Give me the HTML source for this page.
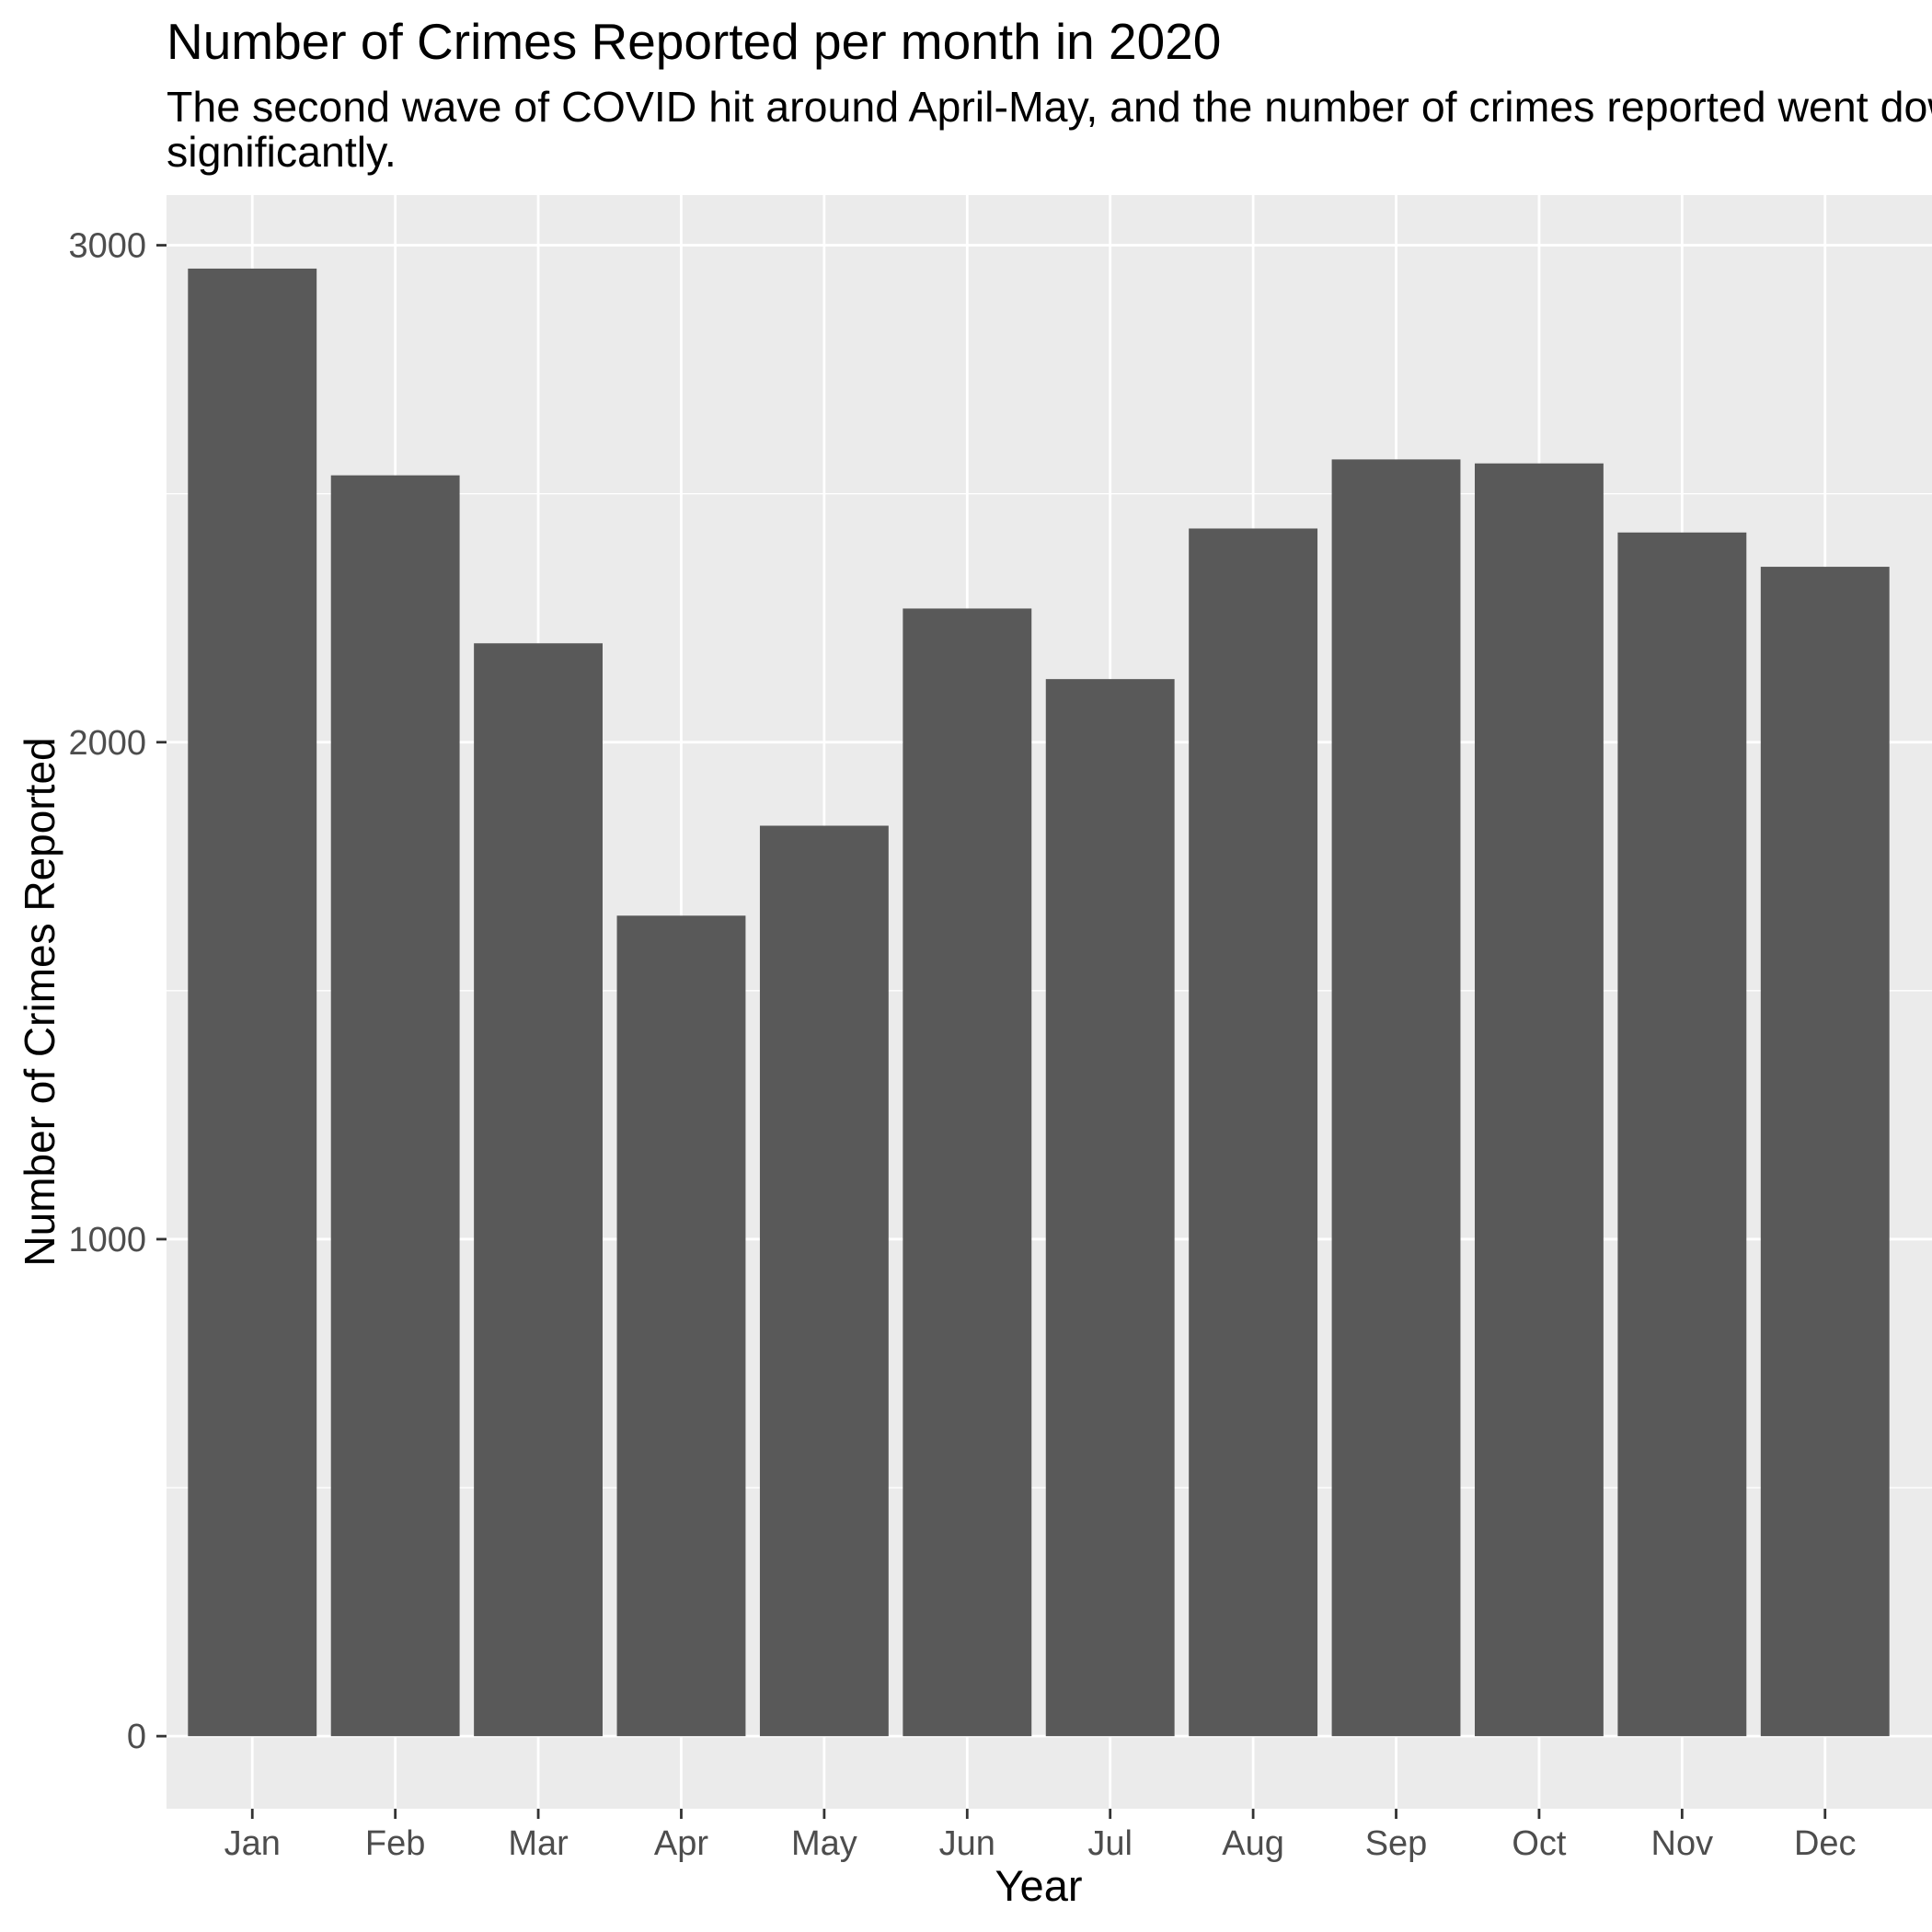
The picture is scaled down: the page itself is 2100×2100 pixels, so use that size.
<!DOCTYPE html>
<html><head><meta charset="utf-8">
<style>
html,body{margin:0;padding:0;background:#fff;}
svg{display:block;}
text{font-family:"Liberation Sans",Arial,sans-serif;}
</style></head>
<body>
<svg id="chart" width="2100" height="2100" viewBox="0 0 2100 2100" xmlns="http://www.w3.org/2000/svg">
<rect x="0" y="0" width="2100" height="2100" fill="#ffffff"/>
<text x="181" y="64" font-size="55" fill="#000">Number of Crimes Reported per month in 2020</text>
<text x="181" y="132" font-size="46.5" fill="#000">The second wave of COVID hit around April-May, and the number of crimes reported went down</text>
<text x="181" y="181" font-size="46.5" fill="#000">significantly.</text>
<rect x="181" y="212" width="1919" height="1754" fill="#ebebeb"/>
<g id="grid"></g>
<g id="bars"></g>
<g id="axes"></g>
<text x="1129" y="2066" font-size="47" text-anchor="middle" fill="#000">Year</text>
<text transform="translate(59,1089) rotate(-90)" font-size="46" text-anchor="middle" fill="#000">Number of Crimes Reported</text>
</svg>
<script>
const categories = ["Jan","Feb","Mar","Apr","May","Jun","Jul","Aug","Sep","Oct","Nov","Dec"];
const crimes = [2953,2537,2199,1651,1832,2269,2127,2430,2569,2561,2422,2353];
const yTicks = [0,1000,2000,3000];
const yMinorTicks = [500,1500,2500];

const NS = "http://www.w3.org/2000/svg";
const panelL = 181, panelR = 2077, panelT = 212, panelB = 1966, gridR = 2100;
const yMin = -146, yMax = 3101;
function yScale(v){ return panelB - (v - yMin) / (yMax - yMin) * (panelB - panelT); }
const step = (panelR - panelL) / (categories.length - 1 + 1.2);
function xScale(i){ return panelL + (0.6 + i) * step; }
function mk(tag, attrs, parent){
  const el = document.createElementNS(NS, tag);
  for (const k in attrs) el.setAttribute(k, attrs[k]);
  parent.appendChild(el);
  return el;
}
const grid = document.getElementById("grid");
const bars = document.getElementById("bars");
const axes = document.getElementById("axes");

yMinorTicks.forEach(v => {
  const l = mk("line", {x1:panelL, x2:gridR, y1:yScale(v), y2:yScale(v), stroke:"#fff", "stroke-width":1.4}, grid);
  
  
});
yTicks.forEach(v => {
  const l = mk("line", {x1:panelL, x2:gridR, y1:yScale(v), y2:yScale(v), stroke:"#fff", "stroke-width":2.8}, grid);
  
  
  const t = mk("line", {x1:170, x2:panelL, y1:yScale(v), y2:yScale(v), stroke:"#333", "stroke-width":2.8}, axes);
  
  
  const tx = mk("text", {x:159, y:yScale(v)+13, "font-size":38, fill:"#4d4d4d", "text-anchor":"end"}, axes);
  tx.textContent = v;
  
  
});
categories.forEach((c, i) => {
  const x = xScale(i);
  const g = mk("line", {x1:x, x2:x, y1:panelT, y2:panelB, stroke:"#fff", "stroke-width":2.8}, grid);
  
  
  const w = step * 0.9;
  const b = mk("rect", {x:x - w/2, y:yScale(crimes[i]), width:w, height:yScale(0) - yScale(crimes[i]), fill:"#595959"}, bars);
  
  
  const t = mk("line", {x1:x, x2:x, y1:panelB, y2:panelB+11, stroke:"#333", "stroke-width":2.8}, axes);
  
  
  const tx = mk("text", {x:x, y:2016, "font-size":38, fill:"#4d4d4d", "text-anchor":"middle"}, axes);
  tx.textContent = c;
  
  
});
</script>
</body></html>
